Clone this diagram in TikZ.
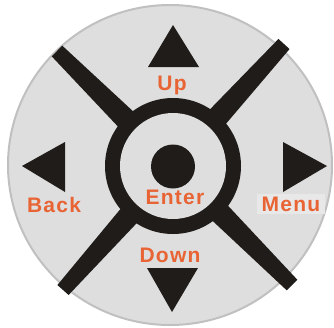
\documentclass[tikz,border=0pt]{standalone}
\usepackage{fontspec}
\usepackage{tikz}
\usetikzlibrary{calc}
\newfontfamily\keyfont[LetterSpace=6]{Liberation Sans}
\definecolor{keygray}{RGB}{222,222,222}
\definecolor{rimgray}{RGB}{192,192,192}
\definecolor{keyblack}{RGB}{32,28,26}
\definecolor{keyorange}{RGB}{232,100,52}
\tikzset{keylabel/.style={anchor=base,inner sep=0pt,text=keyorange,font=\keyfont\bfseries\fontsize{21}{25}\selectfont}}

\begin{document}
\begin{tikzpicture}[x=1pt,y=-1pt]
\useasboundingbox (0,0) rectangle (334,327);
% pad
\filldraw[fill=keygray,draw=rimgray,line width=2pt] (170,165) ellipse [x radius=162pt,y radius=160pt];
% cross bars
\coordinate (hub) at (173,166);
\coordinate (ul) at (57,51);
\coordinate (ur) at (284,44);
\coordinate (ll) at (63,290);
\coordinate (lr) at (292,285);
\foreach \e in {ul,ur,ll,lr}
  \fill[keyblack] ($(hub)!13pt!90:(\e)$) -- ($(\e)!7.5pt!-90:(hub)$) -- ($(\e)!7.5pt!90:(hub)$) -- ($(hub)!13pt!-90:(\e)$) -- cycle;
% ring and enter key
\fill[keyblack] (hub) circle [radius=68pt];
\fill[keygray] (hub) circle [radius=53pt];
\fill[keyblack] (173,166.5) circle [radius=22pt];
% arrows
\fill[keyblack] (173,25) -- (148,67) -- (199,67) -- cycle;
\fill[keyblack] (147,268) -- (198,268) -- (172,312) -- cycle;
\fill[keyblack] (22,166) -- (65,142) -- (65,192) -- cycle;
\fill[keyblack] (327,166) -- (283,142) -- (283,192) -- cycle;
% labels
\node[keylabel] (up) at (172,90) {Up};
\node[keylabel] (back) at (54,212) {Back};
\node[keylabel] (enter) at (175,204) {Enter};
\node[keylabel,fill=keygray!70!white,inner xsep=5pt,inner ysep=3pt] (menu) at (291,211) {Menu};
\node[keylabel] (down) at (170,262) {Down};
\end{tikzpicture}
\end{document}
